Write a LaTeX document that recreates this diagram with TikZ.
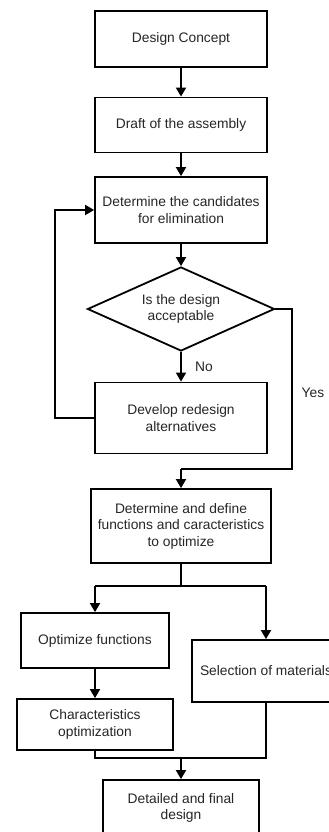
\documentclass[tikz,border=0pt]{standalone}
\usepackage{fontspec}
\setmainfont{Liberation Sans}
\usetikzlibrary{arrows.meta,shapes.geometric}
\begin{document}
\begin{tikzpicture}[x=1pt,y=-1pt,
  every node/.style={font=\fontsize{13.8}{16.5}\selectfont, text=black!85},
  box/.style={draw, line width=1.8pt, inner sep=2pt, align=center},
  conn/.style={line width=1.8pt},
  arr/.style={conn, -{Triangle[length=9pt,width=10pt]}},
  decision/.style={diamond, draw, line width=1.8pt, inner sep=0pt, align=center, aspect=2.2}]
\clip (0,0) rectangle (329,832);
\fill[white] (0,0) rectangle (329,832);
\node[box, minimum width=172pt, minimum height=56pt] (b1) at (181,39) {Design Concept};
\node[box, minimum width=172pt, minimum height=55pt] (b2) at (181,125) {Draft of the assembly};
\node[box, minimum width=172pt, minimum height=66pt] (b3) at (181,210) {Determine the candidates\\for elimination};
\node[decision, minimum width=187pt, minimum height=84pt] (d) at (181,309) {Is the design\\acceptable};
\node[box, minimum width=172pt, minimum height=71pt] (b4) at (181,418) {Develop redesign\\alternatives};
\node[box, minimum width=180pt, minimum height=74pt] (b5) at (181,526) {Determine and define\\functions and caracteristics\\to optimize};
\node[box, minimum width=148pt, minimum height=55pt] (b6) at (95,640.5) {Optimize functions};
\node[box, minimum width=148pt, minimum height=62pt] (b7) at (266,671) {Selection of materials};
\node[box, minimum width=156pt, minimum height=51pt] (b8) at (95,724.5) {Characteristics\\optimization};
\node[box, minimum width=156pt, minimum height=56pt] (b9) at (181,808) {Detailed and final\\design};
\node (no) at (204,367) {No};
\node (yes) at (313,393) {Yes};
\coordinate (y1) at (292,309);
\coordinate (y2) at (292,469);
\coordinate (y3) at (181,469);
\coordinate (l1) at (55,418);
\coordinate (l2) at (55,210);
\coordinate (s0) at (181,586);
\coordinate (sl) at (95,586);
\coordinate (sr) at (266,586);
\coordinate (m0) at (181,758);
\coordinate (ml) at (95,758);
\coordinate (mr) at (266,758);
\draw[arr] (b1) -- (b2);
\draw[arr] (b2) -- (b3);
\draw[arr] (b3) -- (d);
\draw[arr] (d) -- (b4);
\draw[arr] (b4.west) -- (l1) -- (l2) -- (b3.west);
\draw[conn] (d.east) -- (y1) -- (y2) -- (y3);
\draw[arr] (y3) -- (b5.north);
\draw[conn] (b5.south) -- (s0);
\draw[conn] (sl) -- (sr);
\draw[arr] (sl) -- (b6.north);
\draw[arr] (sr) -- (b7.north);
\draw[arr] (b6) -- (b8);
\draw[conn] (b8.south) -- (ml) -- (mr) -- (b7.south);
\draw[arr] (m0) -- (b9.north);
\end{tikzpicture}
\end{document}
